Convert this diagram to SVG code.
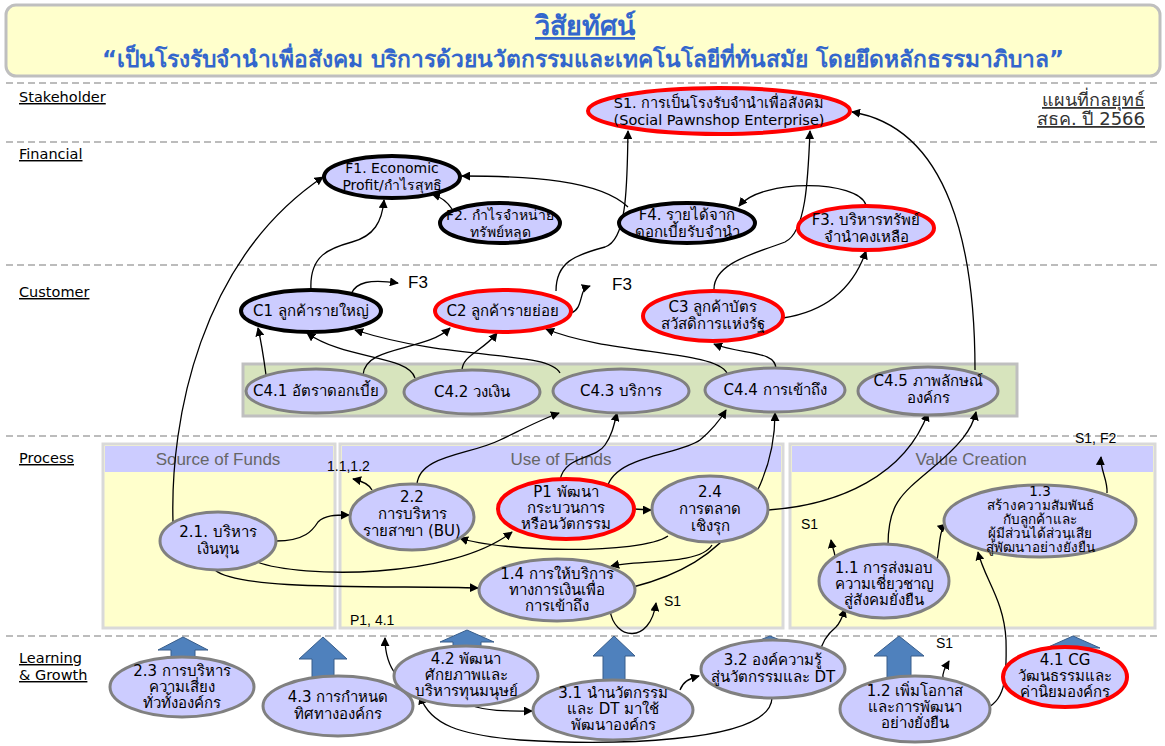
<svg xmlns="http://www.w3.org/2000/svg" width="1165" height="746" viewBox="0 0 1165 746">
<defs>
<marker id="ah" viewBox="0 0 10 10" refX="9" refY="5" markerWidth="9" markerHeight="9" markerUnits="userSpaceOnUse" orient="auto"><path d="M0,0 L10,5 L0,10 z" fill="#000"/></marker>
<style>
.sec{stroke:#A6A6A6;stroke-width:1.5;stroke-dasharray:7,4;fill:none}
.lab{font-family:"DejaVu Sans","Noto Sans",sans-serif;font-size:14.5px;fill:#000;text-decoration:underline}
.n{fill:#CCCCFF;stroke:#808080;stroke-width:3}
.k{fill:#CCCCFF;stroke:#000;stroke-width:4}
.r{fill:#CCCCFF;stroke:#FF0000;stroke-width:4}
.t{font-family:"DejaVu Sans","Noto Sans",sans-serif;font-size:15px;fill:#000;text-anchor:middle}
.s{font-size:14px}
.xs{font-size:13.5px}
.a{font-family:"Liberation Sans",Arial,sans-serif;font-size:14px;fill:#000}
.a16{font-family:"Liberation Sans",Arial,sans-serif;font-size:17px;fill:#000}
.ph{fill:#CCCCFF}
.pb{fill:#FFFFCC;stroke:#D9D9D9;stroke-width:3}
.pt{font-family:"Liberation Sans",Arial,sans-serif;font-size:17px;fill:#666;text-anchor:middle}
.ba{fill:#4F81BD;stroke:#385D8A;stroke-width:1}
#conn path{fill:none;stroke:#000;stroke-width:1.3;marker-end:url(#ah)}
</style>
</defs>
<rect width="1165" height="746" fill="#fff"/>
<g id="header">
<rect x="6" y="5" width="1154" height="71" rx="10" fill="#FFFFCC" stroke="#BFBFBF" stroke-width="3"/>
<text x="585" y="35" text-anchor="middle" font-family="Tahoma,'DejaVu Sans','Noto Sans',sans-serif" font-size="27" font-weight="bold" fill="#3366CC" text-decoration="underline">วิสัยทัศน์</text>
<text x="583" y="67" text-anchor="middle" font-family="Tahoma,'DejaVu Sans','Noto Sans',sans-serif" font-size="22.8" font-weight="bold" fill="#3366CC">“เป็นโรงรับจำนำเพื่อสังคม บริการด้วยนวัตกรรมและเทคโนโลยีที่ทันสมัย โดยยึดหลักธรรมาภิบาล”</text>
</g>
<g id="sections">
<line class="sec" x1="6" y1="83" x2="1160" y2="83"/>
<line class="sec" x1="6" y1="142" x2="1160" y2="142"/>
<line class="sec" x1="6" y1="265" x2="1160" y2="265"/>
<line class="sec" x1="6" y1="436" x2="1160" y2="436"/>
<line class="sec" x1="6" y1="636" x2="1160" y2="636"/>
<text class="lab" x="19" y="102">Stakeholder</text>
<text class="lab" x="19" y="159">Financial</text>
<text class="lab" x="19" y="297">Customer</text>
<text class="lab" x="19" y="463">Process</text>
<text class="lab" x="19" y="663">Learning</text>
<text class="lab" x="19" y="680">&amp; Growth</text>
<text x="1145" y="106" text-anchor="end" font-family="Tahoma,'DejaVu Sans','Noto Sans',sans-serif" font-size="18" fill="#333" text-decoration="underline">แผนที่กลยุทธ์</text>
<text x="1145" y="125" text-anchor="end" font-family="Tahoma,'DejaVu Sans','Noto Sans',sans-serif" font-size="18" fill="#333" text-decoration="underline">สธค. ปี 2566</text>
</g>
<g id="panels">
<rect x="243" y="364" width="774" height="52" fill="#D7E4BD" stroke="#BFBFBF" stroke-width="3"/>
<rect class="pb" x="103" y="444" width="232" height="184"/>
<rect class="ph" x="105" y="446" width="228" height="26"/>
<text class="pt" x="218" y="465">Source of Funds</text>
<rect class="pb" x="340" y="444" width="443" height="184"/>
<rect class="ph" x="342" y="446" width="439" height="26"/>
<text class="pt" x="561" y="465">Use of Funds</text>
<rect class="pb" x="790" y="444" width="365" height="184"/>
<rect class="ph" x="792" y="446" width="361" height="26"/>
<text class="pt" x="971" y="465">Value Creation</text>
</g>
<g id="bigarrows">
<polygon class="ba" points="183,637 208,650 195,650 195,662 171,662 171,650 158,650"/>
<polygon class="ba" points="323,637 347,659 334,659 334,682 312,682 312,659 299,659"/>
<polygon class="ba" points="467,630 494,642 481,642 481,652 453,652 453,642 440,642"/>
<polygon class="ba" points="614,636 635,656 625,656 625,684 603,684 603,656 593,656"/>
<polygon class="ba" points="770,636 800,648 783,648 783,656 757,656 757,648 740,648"/>
<polygon class="ba" points="899,636 924,656 911,656 911,682 887,682 887,656 874,656"/>
<polygon class="ba" points="1073,636 1100,648 1085,648 1085,656 1061,656 1061,648 1046,648"/>
</g>
<g id="conn">
<path d="M173,522 C170,420 200,260 323,177"/>
<path d="M311,290 C309,255 330,248 352,242 C374,236 382,222 384,200"/>
<path d="M452,209 C447,201 441,197 432,194"/>
<path d="M628,207 C600,180 530,176 462,176"/>
<path d="M556,291 C556,262 575,255 605,247 C628,240 627,180 628,131"/>
<path d="M714,290 C713,262 760,252 785,242 C806,232 808,180 810,131"/>
<path d="M866,205 C858,180 762,178 739,206"/>
<path d="M975,370 C975,250 950,128 852,112"/>
<path d="M783,318 C822,312 852,292 866,251"/>
<path d="M351,294 C356,282 370,279 398,283"/>
<path d="M571,313 C580,310 580,300 583,292 C585,288 587,287 590,286"/>
<path d="M266,375 C264,360 262,345 258,328"/>
<path d="M363,375 C365,345 425,352 450,328"/>
<path d="M415,378 C408,355 345,360 307,333"/>
<path d="M462,371 C462,355 482,352 497,333"/>
<path d="M560,373 C548,350 455,362 355,330"/>
<path d="M727,373 C715,350 610,355 546,329"/>
<path d="M776,369 C776,350 742,355 714,344"/>
<path d="M417,484 C420,455 470,455 500,440 C525,428 540,420 559,413"/>
<path d="M560,480 C565,455 595,460 605,445 C612,435 614,425 617,413"/>
<path d="M607,488 C615,455 680,455 700,440 C712,430 720,420 726,410"/>
<path d="M633,587 C680,575 715,555 740,520 C765,485 775,450 775,413"/>
<path d="M768,510 C840,505 905,475 928,413"/>
<path d="M888,545 C888,505 900,495 930,470 C960,445 972,430 976,412"/>
<path d="M276,541 C305,541 313,530 318,522 C325,515 335,515 349,515"/>
<path d="M257,562 C300,578 450,580 512,532"/>
<path d="M215,570 C240,592 400,585 478,588"/>
<path d="M372,490 C369,484 362,481 353,479"/>
<path d="M634,509 C640,509 645,510 651,510"/>
<path d="M668,536 C640,555 500,552 460,538"/>
<path d="M712,545 C700,565 640,560 611,566"/>
<path d="M610,610 C614,640 650,645 656,603"/>
<path d="M835,556 C834,550 832,546 831,540"/>
<path d="M937,560 C940,545 939,530 946,524"/>
<path d="M1107,493 C1108,480 1100,470 1101,457"/>
<path d="M982,710 C1005,703 1007,680 1006,640 C1004,600 985,580 978,552"/>
<path d="M943,679 C942,673 945,668 949,661"/>
<path d="M820,653 C822,640 830,632 836,627 C841,622 843,615 845,609"/>
<path d="M470,705 C490,712 510,711 532,711"/>
<path d="M680,690 C683,682 688,679 699,676"/>
<path d="M772,698 C770,745 600,745 520,740 C460,735 430,725 420,696"/>
<path d="M397,676 C388,665 385,652 385,638"/>
</g>
<g id="labels">
<text class="a16" x="408" y="288">F3</text>
<text class="a16" x="612" y="290">F3</text>
<text class="a" x="327" y="471">1.1,1.2</text>
<text class="a" x="350" y="625">P1, 4.1</text>
<text class="a" x="664" y="606">S1</text>
<text class="a" x="801" y="529">S1</text>
<text class="a" x="1075" y="443">S1, F2</text>
<text class="a" x="936" y="648">S1</text>
</g>
<g id="S1"><ellipse class="r" cx="719" cy="111" rx="131" ry="23"/><text class="t" x="719" y="108" style="font-size:14.5px">S1. การเป็นโรงรับจำนำเพื่อสังคม</text><text class="t" x="719" y="125" style="font-size:14.5px">(Social Pawnshop Enterprise)</text></g>
<g id="F1"><ellipse class="k" cx="392" cy="177" rx="68" ry="21"/><text class="t s" x="392" y="173">F1. Economic</text><text class="t s" x="392" y="190">Profit/กำไรสุทธิ</text></g>
<g id="F2"><ellipse class="k" cx="500" cy="223" rx="60" ry="20"/><text class="t s" x="500" y="220">F2. กำไรจำหน่าย</text><text class="t s" x="500" y="237">ทรัพย์หลุด</text></g>
<g id="F4"><ellipse class="k" cx="687" cy="223" rx="68" ry="20"/><text class="t" x="687" y="220">F4. รายได้จาก</text><text class="t" x="687" y="237">ดอกเบี้ยรับจำนำ</text></g>
<g id="F3"><ellipse class="r" cx="866" cy="228" rx="68" ry="22"/><text class="t" x="866" y="225">F3. บริหารทรัพย์</text><text class="t" x="866" y="242">จำนำคงเหลือ</text></g>
<g id="C1"><ellipse class="k" cx="311" cy="311" rx="70" ry="21"/><text class="t" x="311" y="316">C1 ลูกค้ารายใหญ่</text></g>
<g id="C2"><ellipse class="r" cx="503" cy="311" rx="68" ry="21"/><text class="t" x="503" y="316">C2 ลูกค้ารายย่อย</text></g>
<g id="C3"><ellipse class="r" cx="713" cy="316" rx="70" ry="25"/><text class="t" x="713" y="312">C3 ลูกค้าบัตร</text><text class="t" x="713" y="329">สวัสดิการแห่งรัฐ</text></g>
<g id="C41"><ellipse class="n" cx="316" cy="391" rx="70" ry="22"/><text class="t" x="316" y="396">C4.1 อัตราดอกเบี้ย</text></g>
<g id="C42"><ellipse class="n" cx="472" cy="392" rx="68" ry="22"/><text class="t" x="472" y="397">C4.2 วงเงิน</text></g>
<g id="C43"><ellipse class="n" cx="621" cy="391" rx="68" ry="22"/><text class="t" x="621" y="396">C4.3 บริการ</text></g>
<g id="C44"><ellipse class="n" cx="775" cy="390" rx="70" ry="22"/><text class="t" x="775" y="395">C4.4 การเข้าถึง</text></g>
<g id="C45"><ellipse class="n" cx="928" cy="391" rx="70" ry="24"/><text class="t" x="928" y="386">C4.5 ภาพลักษณ์</text><text class="t" x="928" y="403">องค์กร</text></g>
<g id="P21"><ellipse class="n" cx="218" cy="541" rx="58" ry="29"/><text class="t" x="218" y="537">2.1. บริหาร</text><text class="t" x="218" y="554">เงินทุน</text></g>
<g id="P22"><ellipse class="n" cx="412" cy="517" rx="62" ry="33"/><text class="t" x="412" y="502">2.2</text><text class="t" x="412" y="519">การบริหาร</text><text class="t" x="412" y="536">รายสาขา (BU)</text></g>
<g id="P1"><ellipse class="r" cx="566" cy="509" rx="68" ry="30"/><text class="t" x="566" y="497">P1 พัฒนา</text><text class="t" x="566" y="513">กระบวนการ</text><text class="t" x="566" y="529">หรือนวัตกรรม</text></g>
<g id="P24"><ellipse class="n" cx="710" cy="509" rx="58" ry="33"/><text class="t" x="710" y="497">2.4</text><text class="t" x="710" y="514">การตลาด</text><text class="t" x="710" y="531">เชิงรุก</text></g>
<g id="P14"><ellipse class="n" cx="557" cy="590" rx="78" ry="31"/><text class="t" x="557" y="579">1.4 การให้บริการ</text><text class="t" x="557" y="595">ทางการเงินเพื่อ</text><text class="t" x="557" y="611">การเข้าถึง</text></g>
<g id="P11"><ellipse class="n" cx="884" cy="581" rx="65" ry="37"/><text class="t" x="884" y="573">1.1 การส่งมอบ</text><text class="t" x="884" y="589">ความเชี่ยวชาญ</text><text class="t" x="884" y="605">สู่สังคมยั่งยืน</text></g>
<g id="P13"><ellipse class="n" cx="1040" cy="521" rx="96" ry="36"/><text class="t xs" x="1040" y="496">1.3</text><text class="t xs" x="1040" y="510">สร้างความสัมพันธ์</text><text class="t xs" x="1040" y="524">กับลูกค้าและ</text><text class="t xs" x="1040" y="538">ผู้มีส่วนได้ส่วนเสีย</text><text class="t xs" x="1040" y="552">สู่พัฒนาอย่างยั่งยืน</text></g>
<g id="L23"><ellipse class="n" cx="182" cy="687" rx="72" ry="30"/><text class="t" x="182" y="676">2.3 การบริหาร</text><text class="t" x="182" y="692">ความเสี่ยง</text><text class="t" x="182" y="708">ทั่วทั้งองค์กร</text></g>
<g id="L43"><ellipse class="n" cx="338" cy="706" rx="75" ry="30"/><text class="t" x="338" y="702">4.3 การกำหนด</text><text class="t" x="338" y="719">ทิศทางองค์กร</text></g>
<g id="L42"><ellipse class="n" cx="466" cy="676" rx="72" ry="30"/><text class="t" x="466" y="664">4.2 พัฒนา</text><text class="t" x="466" y="680">ศักยภาพและ</text><text class="t" x="466" y="696">บริหารทุนมนุษย์</text></g>
<g id="L31"><ellipse class="n" cx="613" cy="710" rx="80" ry="30"/><text class="t" x="613" y="698">3.1 นำนวัตกรรม</text><text class="t" x="613" y="714">และ DT มาใช้</text><text class="t" x="613" y="730">พัฒนาองค์กร</text></g>
<g id="L32"><ellipse class="n" cx="773" cy="669" rx="72" ry="29"/><text class="t" x="773" y="665">3.2 องค์ความรู้</text><text class="t" x="773" y="682">สู่นวัตกรรมและ DT</text></g>
<g id="L12"><ellipse class="n" cx="915" cy="709" rx="75" ry="33"/><text class="t" x="915" y="696">1.2 เพิ่มโอกาส</text><text class="t" x="915" y="712">และการพัฒนา</text><text class="t" x="915" y="728">อย่างยั่งยืน</text></g>
<g id="L41"><ellipse class="r" cx="1065" cy="677" rx="62" ry="30"/><text class="t" x="1065" y="665">4.1 CG</text><text class="t" x="1065" y="681">วัฒนธรรมและ</text><text class="t" x="1065" y="697">ค่านิยมองค์กร</text></g>
</svg>
